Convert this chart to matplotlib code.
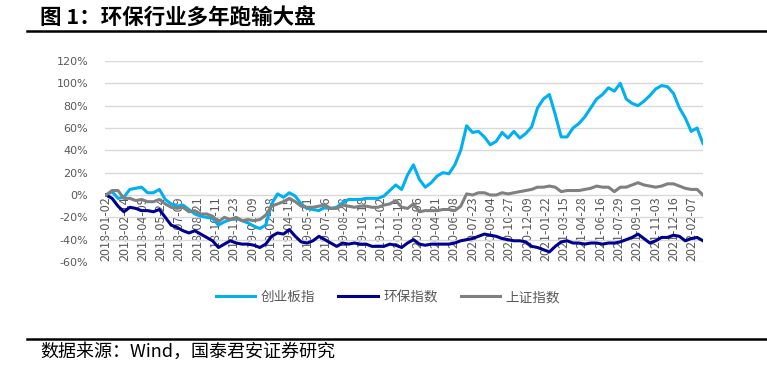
import numpy as np
import matplotlib.pyplot as plt
from matplotlib.lines import Line2D
from matplotlib.ticker import FuncFormatter

plt.rcParams['font.family'] = ['Noto Sans CJK SC', 'DejaVu Sans']

# trading-day index of each sample (one sample every 10 trading days from 2018-01-02)
days = np.arange(0, 1011, 10)

# cumulative return, %
cyb = [0, 3, -3, -2, 5, 6, 7, 2, 2, 5,
       -4, -8, -10, -9, -13, -17, -19, -20, -21, -27,
       -24, -22, -21, -23, -25, -28, -30, -27, -8, 1,
       -2, 2, -1, -8, -12, -13, -14, -11, -12, -11,
       -7, -4, -4, -4, -3, -3, -3, -1, 4, 9,
       5, 18, 27, 14, 7, 11, 17, 20, 19, 27,
       40, 62, 56, 57, 52, 45, 48, 56, 51, 57,
       51, 55, 61, 78, 86, 90, 72, 52, 52, 60,
       64, 70, 78, 86, 90, 96, 93, 100, 86, 82,
       80, 84, 89, 95, 98, 97, 91, 78, 69, 57,
       60, 46]
hb = [0, -3, -10, -15, -11, -12, -14, -14, -15, -13,
      -20, -27, -29, -32, -34, -32, -35, -38, -41, -47,
      -44, -41, -43, -44, -44, -45, -47, -44, -37, -34,
      -35, -31, -37, -42, -43, -41, -37, -40, -43, -46,
      -43, -44, -43, -44, -44, -46, -46, -46, -44, -45,
      -47, -43, -40, -44, -45, -44, -44, -44, -44, -43,
      -41, -40, -39, -37, -35, -36, -37, -39, -40, -41,
      -41, -42, -46, -47, -49, -51, -46, -42, -41, -43,
      -43, -44, -43, -43, -44, -43, -43, -42, -40, -38,
      -35, -39, -43, -41, -38, -38, -36, -37, -41, -39,
      -38, -41]
sz = [0, 4, 4, -3, -3, -5, -4, -6, -6, -4,
      -8, -11, -12, -11, -15, -14, -17, -17, -19, -24,
      -20, -22, -20, -23, -22, -23, -22, -18, -10, -8,
      -6, -3, -6, -10, -11, -11, -10, -9, -12, -12,
      -9, -10, -11, -10, -10, -11, -11, -9, -8, -5,
      -11, -12, -8, -15, -14, -14, -14, -13, -13, -14,
      -10, 1, 0, 2, 2, 0, 0, 2, 1, 2,
      3, 4, 5, 7, 7, 8, 7, 3, 4, 4,
      4, 5, 6, 8, 7, 7, 3, 7, 7, 9,
      11, 9, 8, 7, 8, 10, 10, 8, 6, 5,
      5, 0]

tick_days = np.arange(0, 993, 31)
tick_labels = ['2018-01-02', '2018-02-14', '2018-04-09', '2018-05-24', '2018-07-09',
               '2018-08-21', '2018-10-11', '2018-11-23', '2019-01-09', '2019-02-28',
               '2019-04-15', '2019-05-31', '2019-07-16', '2019-08-28', '2019-10-18',
               '2019-12-02', '2020-01-15', '2020-03-06', '2020-04-21', '2020-06-08',
               '2020-07-23', '2020-09-04', '2020-10-27', '2020-12-09', '2021-01-22',
               '2021-03-15', '2021-04-28', '2021-06-16', '2021-07-29', '2021-09-10',
               '2021-11-03', '2021-12-16', '2022-02-07']

names = ['创业板指', '环保指数', '上证指数']
colors = ['#00B0F0', '#000090', '#808080']
txt = '#595959'

fig = plt.figure(figsize=(7.67, 3.84), dpi=100)
ax = fig.add_axes([105/767, 1-262/384, 598/767, 201/384])

for y, c, n in zip([cyb, hb, sz], colors, names):
    ax.plot(days, y, color=c, lw=2.2, label=n, solid_joinstyle='round')

ax.set_xlim(-2, 1010)
ax.set_ylim(-60, 120)
ax.set_yticks(range(-60, 121, 20))
ax.yaxis.set_major_formatter(FuncFormatter(lambda v, p: f'{v:.0f}%'))
ax.yaxis.grid(True, color='#D9D9D9', lw=1.0)
ax.set_axisbelow(True)

ax.set_xticks(tick_days)
ax.set_xticklabels(tick_labels, family='DejaVu Sans')
ax.spines['bottom'].set_position(('data', 0))
for s in ax.spines.values():
    s.set_color('none')
ax.tick_params(axis='x', length=0, pad=1, labelrotation=90, labelsize=9, labelcolor=txt)
ax.tick_params(axis='y', length=0, pad=12, labelsize=8, labelcolor=txt)
for t in ax.get_yticklabels():
    t.set_family('DejaVu Sans')

fig.legend(loc='center', bbox_to_anchor=(388/767, 1-297/384), ncol=3, frameon=False,
           fontsize=9.8, labelcolor=txt, handlelength=2.9, handletextpad=0.4,
           columnspacing=1.7)

fig.text(40/767, 1-17/384, '图 1：环保行业多年跑输大盘', fontsize=15.5, fontweight='bold',
         va='center', ha='left')
fig.add_artist(Line2D([27/767, 1], [1-31/384]*2, color='black', lw=1.8))
fig.add_artist(Line2D([27/767, 1], [1-339/384]*2, color='black', lw=1.8))
fig.text(40/767, 1-352/384, '数据来源：Wind，国泰君安证券研究', fontsize=13,
         va='center', ha='left')

fig.savefig('out.png', dpi=100)
